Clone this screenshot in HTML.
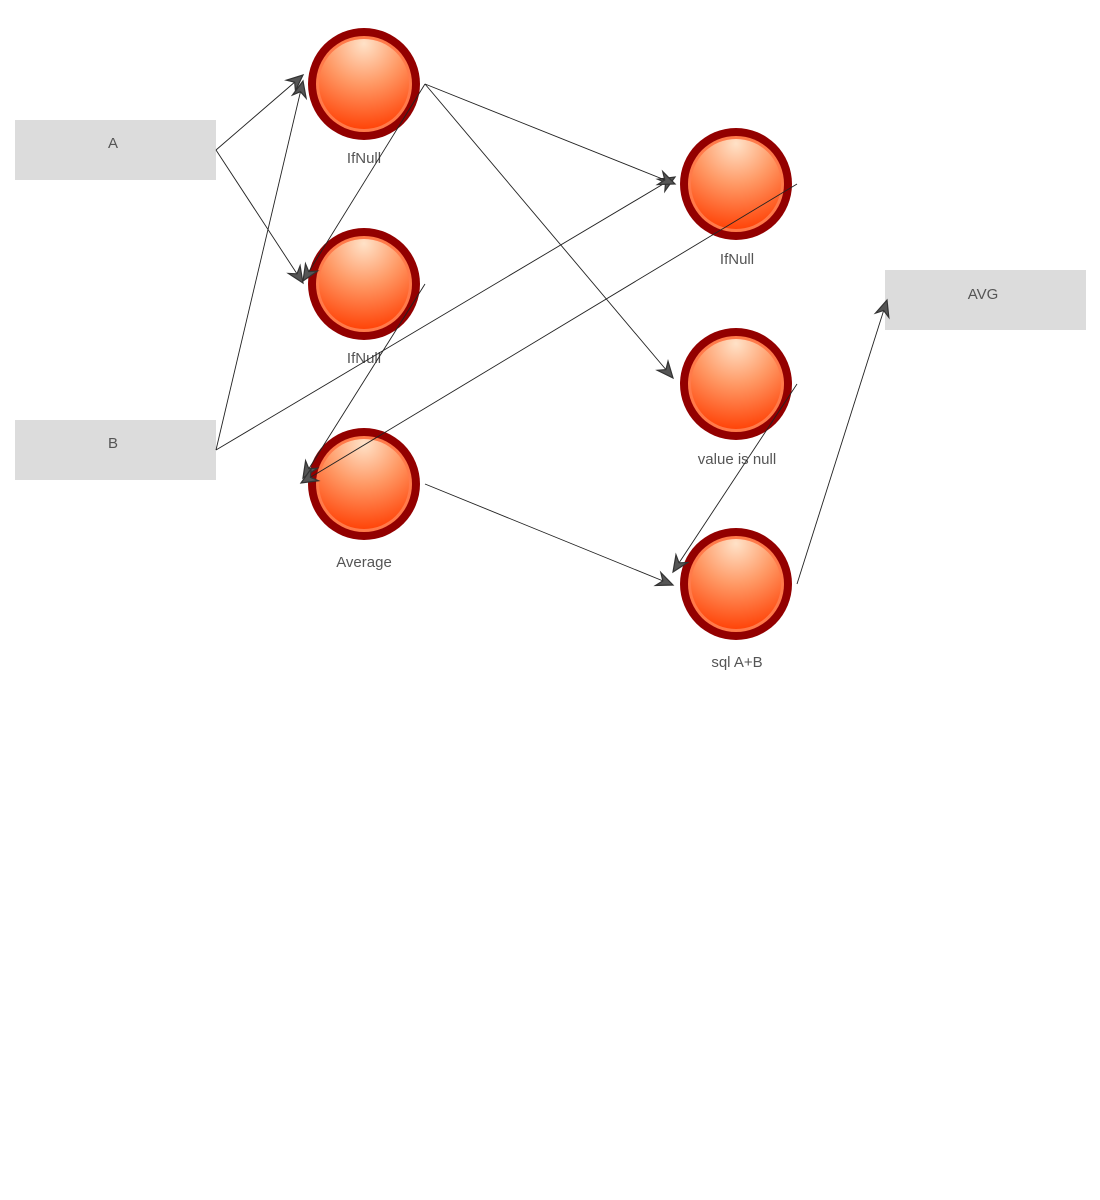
<!DOCTYPE html>
<html><head><meta charset="utf-8"><style>
html,body{margin:0;padding:0;background:#fff;width:1100px;height:1200px;overflow:hidden}
svg{display:block}
text{font-family:"Liberation Sans",sans-serif;font-size:15px;fill:#555}
</style></head><body>
<svg width="1100" height="1200" viewBox="0 0 1100 1200">
<defs>
<radialGradient id="g" cx="0.5" cy="0.1" r="0.95" fx="0.5" fy="0.05">
<stop offset="0" stop-color="#ffe2c8"/>
<stop offset="0.45" stop-color="#ff9a66"/>
<stop offset="1" stop-color="#ff3c00"/>
</radialGradient>
<marker id="ar" viewBox="0 0 20 20" refX="18" refY="10" markerWidth="20" markerHeight="20" markerUnits="userSpaceOnUse" orient="auto">
<path d="M2,3 L18,10 L2,17 L7,10 Z" fill="#555" stroke="#333" stroke-width="1.2"/>
</marker>
<g id="node">
<circle r="56" fill="#930000"/>
<circle r="48" fill="#ff7a4a"/>
<circle r="45" fill="url(#g)"/>
</g>
</defs>
<rect x="15" y="120" width="201" height="60" fill="#dcdcdc"/>
<text x="113" y="148" text-anchor="middle">A</text>
<rect x="15" y="420" width="201" height="60" fill="#dcdcdc"/>
<text x="113" y="448" text-anchor="middle">B</text>
<rect x="885" y="270" width="201" height="60" fill="#dcdcdc"/>
<text x="983" y="299" text-anchor="middle">AVG</text>

<use href="#node" x="364" y="84"/>
<use href="#node" x="364" y="284"/>
<use href="#node" x="364" y="484"/>
<use href="#node" x="736" y="184"/>
<use href="#node" x="736" y="384"/>
<use href="#node" x="736" y="584"/>
<text x="364" y="163" text-anchor="middle">IfNull</text>
<text x="364" y="363" text-anchor="middle">IfNull</text>
<text x="364" y="567" text-anchor="middle">Average</text>
<text x="737" y="264" text-anchor="middle">IfNull</text>
<text x="737" y="464" text-anchor="middle">value  is  null</text>
<text x="737" y="667" text-anchor="middle">sql  A+B</text>

<g stroke="#222" stroke-width="0.9" fill="none" marker-end="url(#ar)">
<line x1="216" y1="150" x2="303" y2="75"/>
<line x1="216" y1="150" x2="303" y2="283"/>
<line x1="216" y1="450" x2="303" y2="81"/>
<line x1="216" y1="450" x2="675" y2="177"/>
<line x1="425" y1="84" x2="675" y2="184"/>
<line x1="425" y1="84" x2="673" y2="378"/>
<line x1="425" y1="84" x2="303" y2="281"/>
<line x1="425" y1="284" x2="303" y2="478"/>
<line x1="797" y1="184" x2="301" y2="483"/>
<line x1="425" y1="484" x2="673" y2="585"/>
<line x1="797" y1="384" x2="673" y2="572"/>
<line x1="797" y1="584" x2="887" y2="300"/>
</g>
</svg>
</body></html>
